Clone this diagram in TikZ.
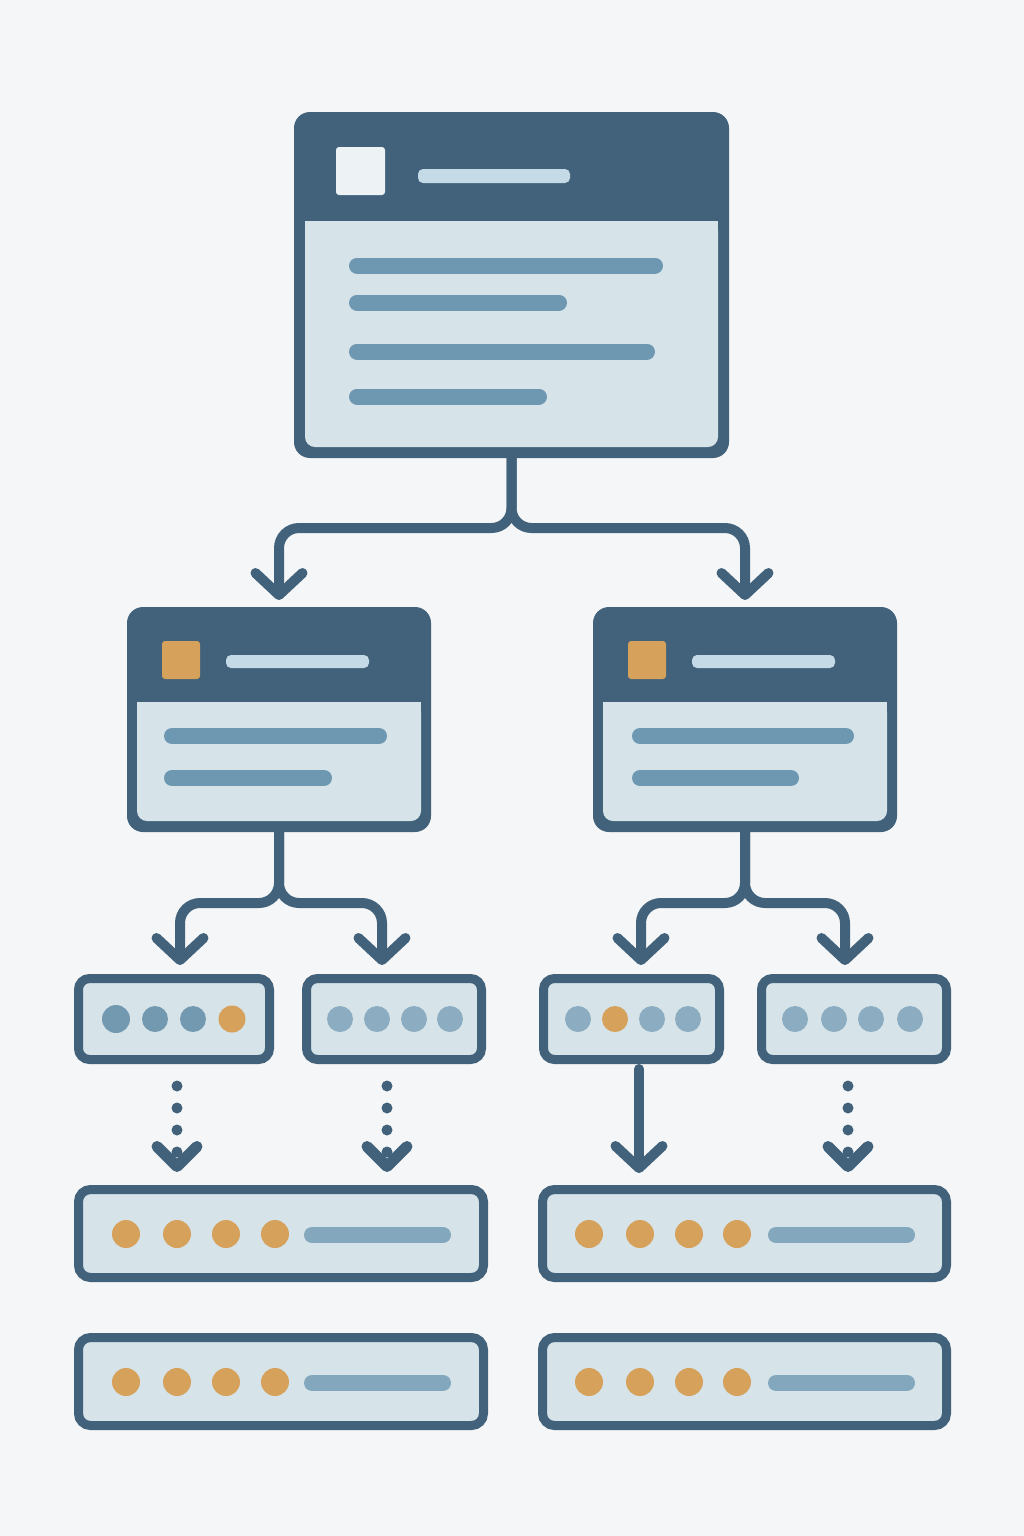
\documentclass[tikz,border=0pt]{standalone}
\usetikzlibrary{arrows.meta,positioning}

\definecolor{paper}{HTML}{F4F6F7}
\definecolor{navy}{HTML}{41627A}
\definecolor{body}{HTML}{D6E4EA}
\definecolor{barblue}{HTML}{6E98B2}
\definecolor{barsoft}{HTML}{83A7BD}
\definecolor{headbar}{HTML}{C4DBE7}
\definecolor{tile}{HTML}{EDF2F5}
\definecolor{amber}{HTML}{D5A15B}
\definecolor{dotdark}{HTML}{7399B1}
\definecolor{dotsoft}{HTML}{8CADC1}

\newcommand{\px}{0.02cm}

\begin{document}
\begin{tikzpicture}[
    x = 0.02cm,
    y = -0.02cm,
    card/.style = {
        rectangle,
        rounded corners = 16*\px,
        fill = navy,
        inner sep = 0pt,
        outer sep = 0pt
    },
    slot/.style = {
        rectangle,
        rounded corners = 11*\px,
        draw = navy,
        fill = body,
        line width = 9*\px,
        minimum height = 81*\px,
        inner sep = 0pt
    },
    row/.style = {
        slot,
        rounded corners = 12*\px,
        minimum height = 88*\px
    },
    bar/.style = {
        line width = 16*\px,
        line cap = round,
        barblue
    },
    link/.style = {
        draw = navy,
        line width = 10*\px,
        line cap = round,
        line join = round,
        rounded corners = 20*\px,
        -{Straight Barb[length=0.44cm, width=0.94cm, round]}
    },
    dotlink/.style = {
        draw = navy,
        line width = 11*\px,
        line cap = round,
        dash pattern = on 0pt off 0.44cm,
        -{Straight Barb[length=0.4cm, width=0.8cm, round]}
    }
]

    % Background
    \fill [paper] (0,0) rectangle (1024,1536);

    % Cards
    \node [card, minimum width = 435*\px, minimum height = 346*\px] (top) at (511.5,285) {};
    \node [card, minimum width = 304*\px, minimum height = 225*\px] (midL) at (279,719.5) {};
    \node [card, minimum width = 304*\px, minimum height = 225*\px] (midR) at (745,719.5) {};

    % Top card content
    \fill [body, rounded corners = 10*\px] (305,221) rectangle (718,447);
    \fill [body] (305,221) rectangle (718,240);
    \fill [tile, rounded corners = 3*\px] (336,147) rectangle (385,195);
    \fill [headbar, rounded corners = 5*\px] (418,169) rectangle (570,183);
    \draw [bar] (357,265.5) -- (655,265.5);
    \draw [bar] (357,302.5) -- (559,302.5);
    \draw [bar] (357,351.5) -- (647,351.5);
    \draw [bar] (357,396.5) -- (539,396.5);

    % Left card content
    \fill [body, rounded corners = 10*\px] (137,702) rectangle (421,821);
    \fill [body] (137,702) rectangle (421,720);
    \fill [amber, rounded corners = 3*\px] (162,641) rectangle (200,679);
    \fill [headbar, rounded corners = 5*\px] (226,655) rectangle (369,668);
    \draw [bar] (172,736) -- (379,736);
    \draw [bar] (172,778) -- (324,778);

    % Right card content
    \fill [body, rounded corners = 10*\px] (603,702) rectangle (887,821);
    \fill [body] (603,702) rectangle (887,720);
    \fill [amber, rounded corners = 3*\px] (628,641) rectangle (666,679);
    \fill [headbar, rounded corners = 5*\px] (692,655) rectangle (835,668);
    \draw [bar] (640,736) -- (846,736);
    \draw [bar] (640,778) -- (791,778);

    % Slots
    \node [slot, minimum width = 191*\px] (s1) at (174,1019) {};
    \node [slot, minimum width = 175*\px] (s2) at (394,1019) {};
    \node [slot, minimum width = 176*\px] (s3) at (631.5,1019) {};
    \node [slot, minimum width = 185*\px] (s4) at (854,1019) {};

    \fill [dotdark] (116,1019) circle (0.28cm) (155,1019) circle (0.26cm) (193,1019) circle (0.26cm);
    \fill [amber] (232,1019) circle (0.27cm);
    \fill [dotsoft] (340,1019) circle (0.26cm) (377,1019) circle (0.26cm)
        (414,1019) circle (0.26cm) (450,1019) circle (0.26cm);
    \fill [dotsoft] (578,1019) circle (0.26cm) (652,1019) circle (0.26cm) (688,1019) circle (0.26cm);
    \fill [amber] (615,1019) circle (0.26cm);
    \fill [dotsoft] (795,1019) circle (0.26cm) (834,1019) circle (0.26cm)
        (871,1019) circle (0.26cm) (910,1019) circle (0.26cm);

    % Rows
    \node [row, minimum width = 405*\px] (rA) at (281,1233.5) {};
    \node [row, minimum width = 405*\px, below = 51*\px of rA] (rB) {};
    \node [row, minimum width = 404*\px] (rC) at (744.5,1233.5) {};
    \node [row, minimum width = 404*\px, below = 51*\px of rC] (rD) {};

    \fill [amber] (126,1234) circle (0.28cm) (177,1234) circle (0.28cm)
        (226,1234) circle (0.28cm) (275,1234) circle (0.28cm);
    \draw [bar, barsoft] (312,1235) -- (443,1235);
    \fill [amber] (126,1382) circle (0.28cm) (177,1382) circle (0.28cm)
        (226,1382) circle (0.28cm) (275,1382) circle (0.28cm);
    \draw [bar, barsoft] (312,1383) -- (443,1383);
    \fill [amber] (589,1234) circle (0.28cm) (640,1234) circle (0.28cm)
        (689,1234) circle (0.28cm) (737,1234) circle (0.28cm);
    \draw [bar, barsoft] (776,1235) -- (907,1235);
    \fill [amber] (589,1382) circle (0.28cm) (640,1382) circle (0.28cm)
        (689,1382) circle (0.28cm) (737,1382) circle (0.28cm);
    \draw [bar, barsoft] (776,1383) -- (907,1383);

    % Split points
    \coordinate (fork1) at (511.5,528);
    \coordinate (fork2) at (279,903);
    \coordinate (fork3) at (745,903);
    \coordinate (in1) at ([xshift = 6*\px]s1.north);
    \coordinate (in2) at ([xshift = -12*\px]s2.north);
    \coordinate (in3) at ([xshift = 9.5*\px]s3.north);
    \coordinate (in4) at ([xshift = -9*\px]s4.north);
    \coordinate (out1) at ([xshift = 3*\px]s1.south);
    \coordinate (out2) at ([xshift = -7*\px]s2.south);
    \coordinate (out3) at ([xshift = 7.5*\px]s3.south);
    \coordinate (out4) at ([xshift = -6*\px]s4.south);

    % Arrows
    \draw [link, shorten > = 7*\px] (top.south) |- (midL.north |- fork1) -- (midL.north);
    \draw [link, shorten > = 7*\px] (top.south) |- (midR.north |- fork1) -- (midR.north);
    \draw [link, shorten > = 9*\px] (midL.south) |- (in1 |- fork2) -- (in1);
    \draw [link, shorten > = 9*\px] (midL.south) |- (in2 |- fork2) -- (in2);
    \draw [link, shorten > = 9*\px] (midR.south) |- (in3 |- fork3) -- (in3);
    \draw [link, shorten > = 9*\px] (midR.south) |- (in4 |- fork3) -- (in4);
    \draw [dotlink, shorten < = 22*\px, shorten > = 13*\px] (out1) -- (out1 |- rA.north);
    \draw [dotlink, shorten < = 22*\px, shorten > = 13*\px] (out2) -- (out2 |- rA.north);
    \draw [link, shorten < = 5*\px, shorten > = 12*\px] (out3) -- (out3 |- rC.north);
    \draw [dotlink, shorten < = 22*\px, shorten > = 13*\px] (out4) -- (out4 |- rC.north);

\end{tikzpicture}
\end{document}
